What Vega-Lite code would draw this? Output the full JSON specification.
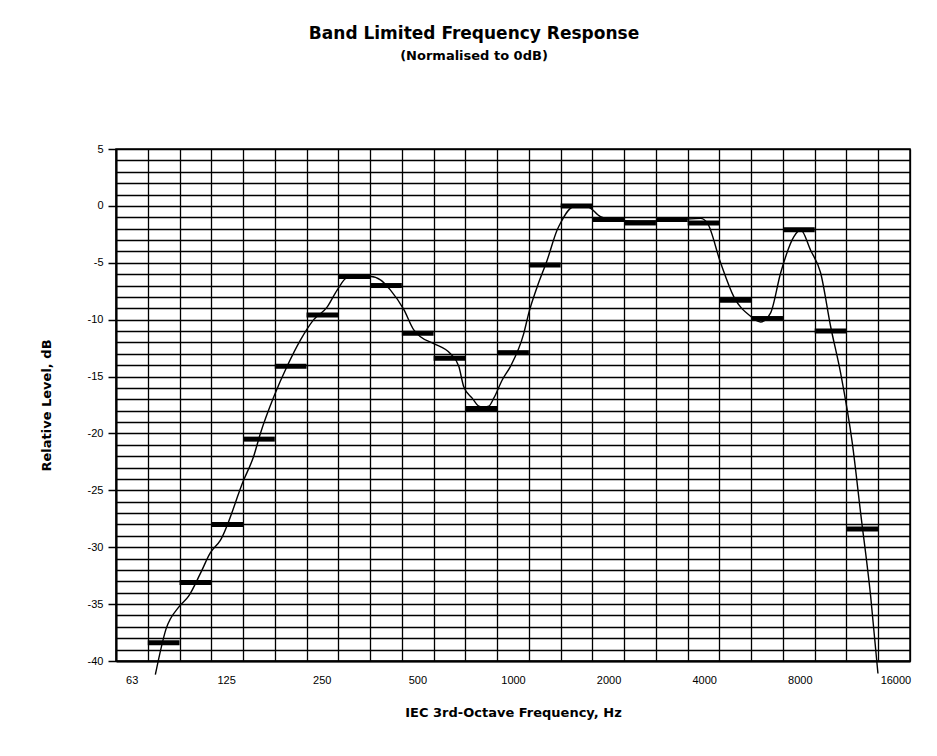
{
  "$schema": "https://vega.github.io/schema/vega-lite/v6.json",
  "autosize": {"type": "none"},
  "padding": {"left": 116, "top": 149, "right": 27, "bottom": 95},
  "width": 794,
  "height": 512,
  "background": "white",
  "title": {
    "text": "Band Limited Frequency Response",
    "subtitle": "(Normalised to 0dB)",
    "font": "DejaVu Sans",
    "fontSize": 17,
    "fontWeight": "bold",
    "color": "black",
    "subtitleFont": "DejaVu Sans",
    "subtitleFontSize": 13,
    "subtitleFontWeight": "bold",
    "subtitleColor": "black",
    "subtitlePadding": 7,
    "anchor": "middle",
    "dx": -39,
    "offset": 79
  },
  "datasets": {
    "bands": [
      {"band": "80", "freq": 70.795, "freq_hi": 89.125, "level": -38.4},
      {"band": "100", "freq": 89.125, "freq_hi": 112.2, "level": -33.1},
      {"band": "125", "freq": 112.2, "freq_hi": 141.25, "level": -28.0},
      {"band": "160", "freq": 141.25, "freq_hi": 177.83, "level": -20.5},
      {"band": "200", "freq": 177.83, "freq_hi": 223.87, "level": -14.1},
      {"band": "250", "freq": 223.87, "freq_hi": 281.84, "level": -9.6},
      {"band": "315", "freq": 281.84, "freq_hi": 354.81, "level": -6.2},
      {"band": "400", "freq": 354.81, "freq_hi": 446.68, "level": -7.0},
      {"band": "500", "freq": 446.68, "freq_hi": 562.34, "level": -11.2},
      {"band": "630", "freq": 562.34, "freq_hi": 707.95, "level": -13.4},
      {"band": "800", "freq": 707.95, "freq_hi": 891.25, "level": -17.8},
      {"band": "1000", "freq": 891.25, "freq_hi": 1122.02, "level": -12.9},
      {"band": "1250", "freq": 1122.02, "freq_hi": 1412.5, "level": -5.2},
      {"band": "1600", "freq": 1412.5, "freq_hi": 1778.3, "level": 0.0},
      {"band": "2000", "freq": 1778.3, "freq_hi": 2238.7, "level": -1.2},
      {"band": "2500", "freq": 2238.7, "freq_hi": 2818.4, "level": -1.5},
      {"band": "3150", "freq": 2818.4, "freq_hi": 3548.1, "level": -1.2},
      {"band": "4000", "freq": 3548.1, "freq_hi": 4466.8, "level": -1.5},
      {"band": "5000", "freq": 4466.8, "freq_hi": 5623.4, "level": -8.3},
      {"band": "6300", "freq": 5623.4, "freq_hi": 7079.5, "level": -9.9},
      {"band": "8000", "freq": 7079.5, "freq_hi": 8912.5, "level": -2.1},
      {"band": "10000", "freq": 8912.5, "freq_hi": 11220.2, "level": -11.0},
      {"band": "12500", "freq": 11220.2, "freq_hi": 14125.4, "level": -28.4}
    ],
    "curve": [
      {"freq": 74.8, "level": -41.2},
      {"freq": 80.8, "level": -37.2},
      {"freq": 89.0, "level": -35.2},
      {"freq": 95.2, "level": -34.3},
      {"freq": 103.7, "level": -32.3},
      {"freq": 111.4, "level": -30.5},
      {"freq": 119.8, "level": -29.4},
      {"freq": 141.9, "level": -24.1},
      {"freq": 152.6, "level": -22.0},
      {"freq": 160.2, "level": -20.0},
      {"freq": 176.4, "level": -16.8},
      {"freq": 194.4, "level": -14.1},
      {"freq": 214.1, "level": -11.8},
      {"freq": 235.8, "level": -10.0},
      {"freq": 259.8, "level": -8.9},
      {"freq": 279.4, "level": -7.4},
      {"freq": 300.4, "level": -6.3},
      {"freq": 326.1, "level": -6.2},
      {"freq": 357.5, "level": -6.2},
      {"freq": 382.4, "level": -6.5},
      {"freq": 411.4, "level": -7.4},
      {"freq": 452.9, "level": -9.1},
      {"freq": 487.0, "level": -10.9},
      {"freq": 511.2, "level": -11.5},
      {"freq": 563.1, "level": -12.1},
      {"freq": 635.6, "level": -13.0},
      {"freq": 675.0, "level": -14.1},
      {"freq": 699.8, "level": -15.9},
      {"freq": 743.9, "level": -16.9},
      {"freq": 780.2, "level": -17.6},
      {"freq": 807.2, "level": -17.7},
      {"freq": 839.0, "level": -17.6},
      {"freq": 869.9, "level": -16.9},
      {"freq": 924.7, "level": -15.3},
      {"freq": 981.9, "level": -14.1},
      {"freq": 1081.4, "level": -11.2},
      {"freq": 1121.5, "level": -9.4},
      {"freq": 1192.0, "level": -7.1},
      {"freq": 1281.7, "level": -4.75},
      {"freq": 1378.1, "level": -2.1},
      {"freq": 1411.5, "level": -1.5},
      {"freq": 1554.4, "level": -0.07},
      {"freq": 1713.0, "level": -0.07},
      {"freq": 1886.4, "level": -0.95},
      {"freq": 2181.5, "level": -1.3},
      {"freq": 2711.0, "level": -1.33},
      {"freq": 3370.0, "level": -1.2},
      {"freq": 3895.6, "level": -1.1},
      {"freq": 4089.7, "level": -1.5},
      {"freq": 4504.0, "level": -5.0},
      {"freq": 4960.0, "level": -8.0},
      {"freq": 5600.0, "level": -9.7},
      {"freq": 6020.0, "level": -10.2},
      {"freq": 6474.0, "level": -9.4},
      {"freq": 6960.0, "level": -5.9},
      {"freq": 7665.0, "level": -2.7},
      {"freq": 8046.0, "level": -2.1},
      {"freq": 8651.0, "level": -3.9},
      {"freq": 9304.0, "level": -5.9},
      {"freq": 10002.0, "level": -10.6},
      {"freq": 10755.0, "level": -14.7},
      {"freq": 11710.0, "level": -20.9},
      {"freq": 12434.0, "level": -27.0},
      {"freq": 13368.0, "level": -34.3},
      {"freq": 14096.0, "level": -41.1}
    ]
  },
  "encoding": {
    "x": {
      "field": "freq",
      "type": "quantitative",
      "scale": {"type": "log", "domain": [56.234, 17782.8], "nice": false},
      "axis": {
        "title": "IEC 3rd-Octave Frequency, Hz",
        "values": [56.234, 63, 70.795, 89.125, 112.2, 125, 141.25, 177.83, 223.87, 250, 281.84, 354.81, 446.68, 500, 562.34, 707.95, 891.25, 1000, 1122.02, 1412.5, 1778.3, 2000, 2238.7, 2818.4, 3548.1, 4000, 4466.8, 5623.4, 7079.5, 8000, 8912.5, 11220.2, 14125.4, 16000, 17782.8],
        "grid": true,
        "gridColor": "black",
        "gridWidth": 1.3,
        "gridOpacity": {"condition": {"test": "indexof([63,125,250,500,1000,2000,4000,8000,16000], datum.value) >= 0", "value": 0}, "value": 1},
        "labelExpr": "indexof([63,125,250,500,1000,2000,4000,8000,16000], datum.value) >= 0 ? '' + datum.value : ''",
        "ticks": false,
        "labelPadding": 13,
        "labelFont": "Liberation Sans",
        "labelFontSize": 11,
        "labelColor": "black",
        "labelOverlap": false,
        "labelFlush": false,
        "domainColor": "black",
        "domainWidth": 2,
        "titleFont": "DejaVu Sans",
        "titleFontSize": 13,
        "titleFontWeight": "bold",
        "titleColor": "black",
        "titlePadding": 21
      }
    },
    "y": {
      "field": "level",
      "type": "quantitative",
      "scale": {"domain": [-40, 5], "nice": false, "zero": false},
      "axis": {
        "title": "Relative Level, dB",
        "values": [-40, -39, -38, -37, -36, -35, -34, -33, -32, -31, -30, -29, -28, -27, -26, -25, -24, -23, -22, -21, -20, -19, -18, -17, -16, -15, -14, -13, -12, -11, -10, -9, -8, -7, -6, -5, -4, -3, -2, -1, 0, 1, 2, 3, 4, 5],
        "grid": true,
        "gridColor": "black",
        "gridWidth": 1.3,
        "gridOpacity": 1,
        "ticks": true,
        "tickSize": 8,
        "tickColor": "black",
        "tickWidth": 1.5,
        "tickOpacity": {"condition": {"test": "datum.value % 5 == 0", "value": 1}, "value": 0},
        "labelExpr": "datum.value % 5 == 0 ? '' + datum.value : ''",
        "labelPadding": 5,
        "labelFont": "Liberation Sans",
        "labelFontSize": 11,
        "labelColor": "black",
        "labelOverlap": false,
        "domainColor": "black",
        "domainWidth": 2,
        "titleFont": "DejaVu Sans",
        "titleFontSize": 13,
        "titleFontWeight": "bold",
        "titleColor": "black",
        "titlePadding": 34
      }
    }
  },
  "layer": [
    {
      "data": {"name": "bands"},
      "mark": {"type": "rule", "color": "black", "strokeWidth": 5, "strokeCap": "butt"},
      "encoding": {
        "x2": {"field": "freq_hi"}
      }
    },
    {
      "data": {"name": "curve"},
      "mark": {"type": "line", "color": "black", "strokeWidth": 1.4, "interpolate": "monotone", "clip": false}
    }
  ],
  "config": {
    "view": {"stroke": "black", "strokeWidth": 1.5},
    "font": "Liberation Sans"
  }
}
